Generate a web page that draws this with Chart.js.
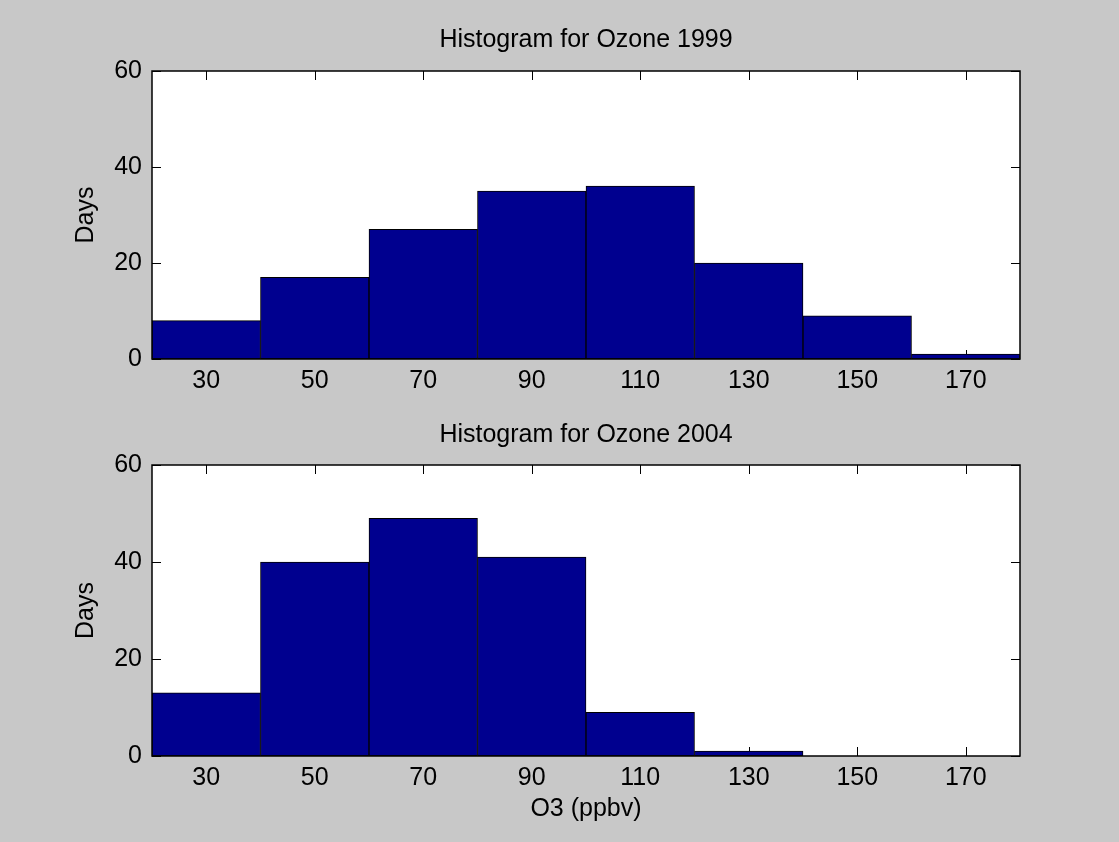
<!DOCTYPE html>
<html>
<head>
<meta charset="utf-8">
<script src="https://cdn.jsdelivr.net/npm/chart.js@4/dist/chart.umd.min.js"></script>
<style>
  body { margin: 0; background: #c8c8c8; width: 1119px; height: 842px; overflow: hidden; }
  canvas { position: absolute; left: 0; }
  #top { top: 0; }
  #bottom { top: 410px; }
</style>
</head>
<body>
<canvas id="top" width="1119" height="410"></canvas>
<canvas id="bottom" width="1119" height="432"></canvas>
<script>
// bin centres (ppbv), 20-wide bins from 20 to 180
const bins = ["30", "50", "70", "90", "110", "130", "150", "170"];
const days1999 = [8, 17, 27, 35, 36, 20, 9, 1];
const days2004 = [13, 40, 49, 41, 9, 1, 0, 0];
const yTicks = [0, 20, 40, 60];

const fontFamily = "'Liberation Sans', Arial, sans-serif";
const fontSize = 25;

// matlab-style axes: white box, ticks pointing inward on all four sides
const matlabAxes = {
    id: "matlabAxes",
    beforeDatasetsDraw(chart) {
        const {ctx, chartArea: a, scales} = chart;
        ctx.save();
        ctx.fillStyle = "#ffffff";
        ctx.fillRect(a.left, a.top, a.right - a.left, a.bottom - a.top);
        ctx.strokeStyle = "#000000";
        ctx.lineWidth = 1;
        const len = 9;
        ctx.beginPath();
        scales.x.ticks.forEach((t, i) => {
            const px = Math.round(scales.x.getPixelForTick(i)) + 0.5;
            ctx.moveTo(px, a.bottom); ctx.lineTo(px, a.bottom - len);
            ctx.moveTo(px, a.top); ctx.lineTo(px, a.top + len);
        });
        scales.y.ticks.forEach((t, i) => {
            const py = Math.round(scales.y.getPixelForTick(i)) + 0.5;
            ctx.moveTo(a.left, py); ctx.lineTo(a.left + len, py);
            ctx.moveTo(a.right, py); ctx.lineTo(a.right - len, py);
        });
        ctx.stroke();
        ctx.restore();
    },
    afterDatasetsDraw(chart) {
        const {ctx, chartArea: a} = chart;
        ctx.save();
        ctx.strokeStyle = "#000000";
        ctx.lineWidth = 1.5;
        ctx.strokeRect(a.left, a.top, a.right - a.left, a.bottom - a.top);
        ctx.restore();
    }
};

const makeChart = (canvasId, values, titleText, titlePad, xTitle, xHeight) => {
    const ctx = document.getElementById(canvasId).getContext("2d");
    return new Chart(ctx, {
        type: "bar",
        data: {
            labels: bins,
            datasets: [{
                data: values,
                backgroundColor: "#00008f",
                borderColor: "#000000",
                borderWidth: 1,
                borderSkipped: false,
                barPercentage: 1,
                categoryPercentage: 1
            }]
        },
        options: {
            responsive: false,
            animation: false,
            layout: { padding: { left: 70, right: 99, top: 0, bottom: 0 } },
            plugins: {
                legend: { display: false },
                tooltip: { enabled: false },
                title: {
                    display: true,
                    text: titleText,
                    fullSize: false,
                    color: "#000000",
                    font: { family: fontFamily, size: fontSize, weight: "normal" },
                    padding: titlePad
                }
            },
            scales: {
                x: {
                    grid: { display: false, drawTicks: false },
                    border: { display: false },
                    ticks: {
                        color: "#000000",
                        font: { family: fontFamily, size: fontSize },
                        padding: 7,
                        maxRotation: 0
                    },
                    title: {
                        display: !!xTitle,
                        text: xTitle,
                        color: "#000000",
                        font: { family: fontFamily, size: fontSize },
                        padding: { top: 0, bottom: 18 }
                    },
                    afterFit: (scale) => { scale.height = xHeight; }
                },
                y: {
                    min: 0,
                    max: 60,
                    grid: { display: false, drawTicks: false },
                    border: { display: false },
                    afterBuildTicks: (scale) => { scale.ticks = yTicks.map(v => ({ value: v })); },
                    ticks: {
                        color: "#000000",
                        font: { family: fontFamily, size: fontSize },
                        padding: 10
                    },
                    title: {
                        display: true,
                        text: "Days",
                        color: "#000000",
                        font: { family: fontFamily, size: fontSize },
                        padding: { top: 1, bottom: 0 }
                    },
                    afterFit: (scale) => { scale.width = 82; }
                }
            }
        },
        plugins: [matlabAxes]
    });
};

makeChart("top", days1999, "Histogram for Ozone 1999", { top: 25, bottom: 16 }, "", 51);
makeChart("bottom", days2004, "Histogram for Ozone 2004", { top: 10, bottom: 15 }, "O3 (ppbv)", 86);
</script>
</body>
</html>
